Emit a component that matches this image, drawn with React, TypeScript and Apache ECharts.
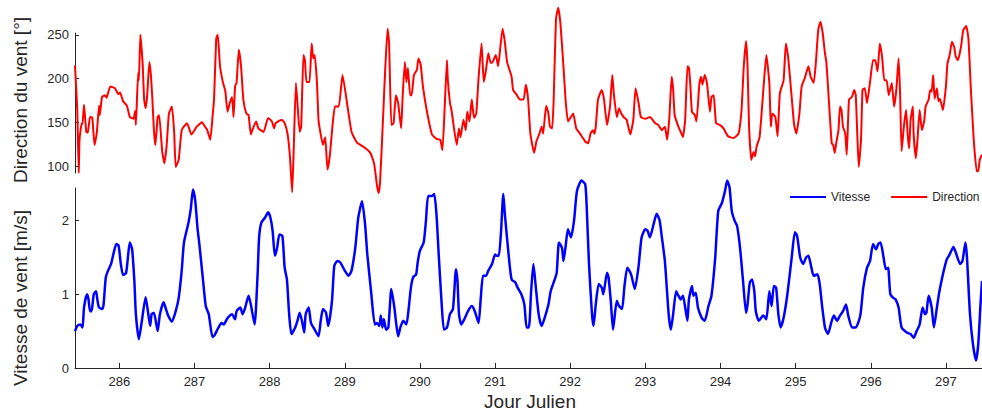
import React, { useEffect, useRef } from "react";
import * as echarts from "echarts";

const DAY_TICKS = [286, 287, 288, 289, 290, 291, 292, 293, 294, 295, 296, 297];
const DIR_TICKS = [100, 150, 200, 250];
const SPD_TICKS = [0, 1, 2];

const dirDays = [
  285.41, 285.44, 285.46, 285.47, 285.5, 285.51, 285.53, 285.56, 285.58, 285.61, 285.64, 285.67, 285.7, 285.73, 285.74,
  285.77, 285.81, 285.83, 285.88, 285.94, 285.99, 286.01, 286.05, 286.1, 286.14, 286.19, 286.21, 286.22, 286.25, 286.26,
  286.28, 286.31, 286.33, 286.35, 286.37, 286.4, 286.42, 286.44, 286.46, 286.48, 286.51, 286.53, 286.57, 286.6, 286.63,
  286.66, 286.7, 286.73, 286.75, 286.79, 286.83, 286.9, 286.96, 287.03, 287.1, 287.14, 287.17, 287.21, 287.24, 287.26,
  287.29, 287.31, 287.34, 287.38, 287.41, 287.44, 287.47, 287.5, 287.52, 287.54, 287.56, 287.59, 287.62, 287.65, 287.69,
  287.72, 287.75, 287.77, 287.82, 287.85, 287.92, 287.98, 288.03, 288.06, 288.08, 288.16, 288.2, 288.24, 288.27, 288.3,
  288.32, 288.35, 288.37, 288.4, 288.42, 288.45, 288.47, 288.49, 288.53, 288.56, 288.58, 288.6, 288.63, 288.65, 288.67,
  288.71, 288.74, 288.77, 288.8, 288.84, 288.87, 288.92, 288.97, 289.03, 289.09, 289.16, 289.25, 289.34, 289.39, 289.43,
  289.45, 289.47, 289.51, 289.54, 289.57, 289.59, 289.62, 289.65, 289.68, 289.71, 289.75, 289.77, 289.8, 289.82, 289.84,
  289.87, 289.89, 289.92, 289.96, 289.98, 290.01, 290.04, 290.09, 290.16, 290.22, 290.27, 290.3, 290.33, 290.36, 290.37,
  290.4, 290.42, 290.49, 290.52, 290.54, 290.58, 290.61, 290.63, 290.66, 290.69, 290.72, 290.75, 290.78, 290.82, 290.85,
  290.88, 290.91, 290.94, 290.96, 291.01, 291.04, 291.1, 291.13, 291.16, 291.22, 291.24, 291.29, 291.33, 291.38, 291.41,
  291.44, 291.47, 291.52, 291.55, 291.59, 291.62, 291.64, 291.68, 291.71, 291.73, 291.76, 291.78, 291.81, 291.84, 291.87,
  291.91, 291.94, 291.97, 292.01, 292.04, 292.08, 292.13, 292.2, 292.24, 292.27, 292.3, 292.32, 292.34, 292.37, 292.42,
  292.45, 292.49, 292.53, 292.56, 292.58, 292.62, 292.65, 292.68, 292.71, 292.75, 292.8, 292.84, 292.87, 292.91, 292.94,
  293.0, 293.06, 293.13, 293.17, 293.22, 293.26, 293.29, 293.32, 293.35, 293.37, 293.39, 293.44, 293.48, 293.5, 293.53,
  293.56, 293.58, 293.6, 293.62, 293.66, 293.68, 293.72, 293.74, 293.76, 293.79, 293.82, 293.86, 293.88, 293.91, 293.94,
  293.99, 294.04, 294.1, 294.17, 294.24, 294.28, 294.31, 294.34, 294.36, 294.38, 294.41, 294.44, 294.46, 294.48, 294.52,
  294.55, 294.58, 294.61, 294.65, 294.67, 294.69, 294.73, 294.76, 294.79, 294.84, 294.87, 294.9, 294.95, 294.98, 295.01,
  295.05, 295.08, 295.12, 295.17, 295.2, 295.24, 295.27, 295.3, 295.33, 295.36, 295.39, 295.41, 295.45, 295.48, 295.5,
  295.52, 295.54, 295.57, 295.59, 295.61, 295.63, 295.66, 295.68, 295.71, 295.75, 295.78, 295.8, 295.82, 295.84, 295.87,
  295.89, 295.92, 295.95, 295.99, 296.03, 296.06, 296.09, 296.12, 296.15, 296.18, 296.21, 296.24, 296.28, 296.31, 296.34,
  296.37, 296.39, 296.41, 296.44, 296.47, 296.49, 296.51, 296.53, 296.56, 296.57, 296.6, 296.62, 296.65, 296.68, 296.71,
  296.73, 296.77, 296.79, 296.81, 296.83, 296.85, 296.88, 296.9, 296.92, 296.96, 297.0, 297.02, 297.05, 297.08, 297.11,
  297.13, 297.16, 297.2, 297.23, 297.27, 297.3, 297.33, 297.37, 297.41, 297.43, 297.45, 297.48,
];
const dirValues = [
  215, 164, 92, 130, 149, 148, 170, 139, 138, 156, 155, 124, 138, 169, 158,
  179, 181, 178, 191, 189, 182, 184, 174, 169, 156, 154, 163, 147, 206, 198,
  250, 217, 176, 166, 180, 219, 204, 176, 141, 124, 156, 158, 117, 103, 124,
  160, 168, 138, 99, 107, 141, 149, 136, 145, 150, 145, 141, 130, 156, 176,
  246, 250, 214, 195, 186, 162, 172, 179, 156, 191, 195, 233, 214, 176, 160,
  158, 136, 141, 151, 143, 139, 155, 151, 143, 149, 153, 149, 136, 111, 70,
  118, 195, 172, 139, 145, 227, 221, 196, 196, 240, 223, 227, 195, 153, 141,
  124, 133, 96, 111, 149, 168, 168, 204, 172, 139, 127, 122, 115, 103, 77,
  69, 82, 156, 214, 257, 240, 147, 149, 181, 172, 143, 179, 219, 196, 212,
  181, 181, 204, 210, 223, 216, 191, 164, 136, 131, 130, 118, 168, 221, 200,
  172, 164, 124, 143, 133, 153, 141, 162, 151, 176, 155, 160, 200, 240, 196,
  210, 229, 218, 218, 227, 214, 257, 242, 219, 202, 187, 181, 176, 176, 193,
  176, 137, 115, 128, 137, 145, 137, 169, 160, 145, 143, 176, 267, 281, 263,
  214, 174, 151, 156, 160, 143, 137, 128, 126, 137, 141, 137, 145, 176, 187,
  176, 147, 168, 204, 183, 156, 166, 160, 156, 153, 136, 153, 189, 172, 156,
  154, 156, 149, 147, 141, 145, 130, 156, 202, 188, 158, 145, 137, 133, 153,
  214, 212, 191, 162, 158, 151, 195, 202, 193, 204, 195, 162, 179, 181, 149,
  147, 143, 134, 132, 137, 164, 214, 243, 214, 145, 107, 116, 111, 122, 133,
  164, 198, 227, 195, 145, 160, 156, 134, 183, 198, 240, 225, 176, 147, 137,
  160, 191, 200, 214, 202, 195, 219, 255, 265, 252, 229, 218, 164, 126, 124,
  115, 126, 141, 168, 164, 145, 137, 113, 176, 179, 187, 181, 137, 99, 130,
  187, 189, 172, 196, 221, 221, 208, 240, 225, 198, 198, 181, 195, 168, 187,
  223, 183, 117, 145, 164, 137, 120, 153, 168, 137, 109, 128, 164, 141, 151,
  168, 176, 187, 185, 204, 177, 189, 174, 177, 164, 191, 217, 227, 242, 236,
  225, 221, 236, 255, 260, 245, 191, 130, 94, 94, 107, 113,
];

const spdDays = [
  285.41, 285.44, 285.48, 285.51, 285.53, 285.57, 285.59, 285.61, 285.63, 285.66, 285.69, 285.71, 285.73, 285.77, 285.79,
  285.82, 285.85, 285.89, 285.92, 285.96, 285.99, 286.02, 286.05, 286.09, 286.12, 286.14, 286.17, 286.2, 286.22, 286.26,
  286.3, 286.35, 286.38, 286.41, 286.43, 286.46, 286.51, 286.54, 286.59, 286.62, 286.65, 286.7, 286.75, 286.79, 286.83,
  286.86, 286.92, 286.95, 286.98, 287.01, 287.04, 287.07, 287.11, 287.15, 287.19, 287.24, 287.27, 287.32, 287.36, 287.39,
  287.43, 287.47, 287.5, 287.54, 287.56, 287.61, 287.64, 287.67, 287.72, 287.75, 287.8, 287.84, 287.86, 287.89, 287.94,
  287.98, 288.01, 288.04, 288.07, 288.1, 288.13, 288.17, 288.2, 288.23, 288.26, 288.29, 288.34, 288.37, 288.4, 288.43,
  288.46, 288.48, 288.52, 288.55, 288.6, 288.65, 288.68, 288.71, 288.75, 288.78, 288.83, 288.86, 288.9, 288.94, 289.0,
  289.05, 289.09, 289.14, 289.18, 289.23, 289.27, 289.3, 289.35, 289.4, 289.43, 289.46, 289.48, 289.5, 289.52, 289.55,
  289.58, 289.62, 289.66, 289.68, 289.71, 289.74, 289.78, 289.82, 289.85, 289.88, 289.91, 289.95, 289.97, 290.0, 290.05,
  290.08, 290.11, 290.16, 290.19, 290.22, 290.25, 290.29, 290.32, 290.36, 290.4, 290.44, 290.48, 290.5, 290.52, 290.55,
  290.59, 290.64, 290.69, 290.73, 290.78, 290.81, 290.84, 290.88, 290.91, 290.96, 291.0, 291.02, 291.05, 291.08, 291.11,
  291.13, 291.18, 291.22, 291.27, 291.3, 291.35, 291.39, 291.42, 291.45, 291.48, 291.51, 291.54, 291.58, 291.62, 291.66,
  291.71, 291.74, 291.78, 291.82, 291.85, 291.89, 291.91, 291.94, 291.97, 292.01, 292.05, 292.09, 292.15, 292.2, 292.22,
  292.25, 292.29, 292.31, 292.34, 292.38, 292.42, 292.44, 292.49, 292.51, 292.54, 292.57, 292.62, 292.65, 292.69, 292.72,
  292.76, 292.81, 292.86, 292.91, 292.95, 293.0, 293.03, 293.06, 293.11, 293.15, 293.19, 293.22, 293.26, 293.31, 293.34,
  293.37, 293.41, 293.44, 293.47, 293.5, 293.53, 293.56, 293.58, 293.62, 293.64, 293.67, 293.7, 293.75, 293.79, 293.84,
  293.88, 293.93, 293.97, 294.02, 294.06, 294.09, 294.12, 294.15, 294.19, 294.22, 294.26, 294.3, 294.34, 294.36, 294.39,
  294.42, 294.45, 294.47, 294.51, 294.57, 294.61, 294.65, 294.68, 294.71, 294.74, 294.77, 294.8, 294.84, 294.89, 294.95,
  294.99, 295.02, 295.06, 295.1, 295.14, 295.17, 295.21, 295.24, 295.29, 295.32, 295.35, 295.39, 295.43, 295.48, 295.51,
  295.55, 295.59, 295.63, 295.67, 295.7, 295.75, 295.8, 295.86, 295.9, 295.95, 295.99, 296.03, 296.07, 296.1, 296.13,
  296.17, 296.2, 296.23, 296.26, 296.3, 296.33, 296.37, 296.41, 296.48, 296.53, 296.57, 296.61, 296.65, 296.69, 296.72,
  296.74, 296.77, 296.81, 296.84, 296.88, 296.91, 296.96, 297.01, 297.05, 297.1, 297.13, 297.19, 297.22, 297.26, 297.28,
  297.32, 297.36, 297.4, 297.43, 297.46, 297.48,
];
const spdValues = [
  0.5, 0.57, 0.59, 0.55, 0.82, 1.0, 0.93, 0.77, 0.77, 1.0, 1.04, 0.91, 0.82, 0.8, 0.86,
  1.23, 1.32, 1.41, 1.54, 1.68, 1.66, 1.41, 1.26, 1.29, 1.56, 1.7, 1.61, 1.18, 0.73, 0.39,
  0.64, 0.96, 0.77, 0.57, 0.73, 0.75, 0.5, 0.73, 0.89, 0.8, 0.71, 0.63, 0.77, 0.95, 1.32,
  1.7, 1.97, 2.15, 2.42, 2.27, 1.9, 1.63, 1.23, 0.84, 0.73, 0.42, 0.45, 0.55, 0.61, 0.59,
  0.66, 0.71, 0.73, 0.66, 0.77, 0.82, 0.73, 0.8, 0.98, 0.86, 0.59, 1.27, 1.77, 1.97, 2.04,
  2.11, 2.04, 1.86, 1.52, 1.63, 1.81, 1.79, 1.36, 1.2, 0.73, 0.46, 0.55, 0.64, 0.75, 0.64,
  0.48, 0.73, 0.82, 0.61, 0.52, 0.43, 0.64, 0.8, 0.75, 0.57, 0.91, 1.38, 1.45, 1.43, 1.32,
  1.25, 1.32, 1.63, 2.04, 2.26, 1.95, 1.54, 1.04, 0.59, 0.61, 0.57, 0.71, 0.55, 0.66, 0.52,
  0.55, 1.07, 0.82, 0.64, 0.43, 0.55, 0.64, 0.59, 0.8, 1.09, 1.23, 1.27, 1.43, 1.59, 1.7,
  1.99, 2.33, 2.33, 2.36, 2.09, 1.54, 0.86, 0.52, 0.55, 0.73, 0.8, 1.34, 1.18, 0.73, 0.59,
  0.66, 0.77, 0.84, 0.77, 0.61, 0.95, 1.25, 1.25, 1.32, 1.41, 1.54, 1.52, 1.52, 1.86, 2.36,
  2.09, 1.54, 1.2, 1.16, 1.09, 1.0, 0.86, 0.55, 0.55, 1.04, 1.41, 1.12, 0.73, 0.57, 0.68,
  0.86, 1.04, 1.16, 1.29, 1.7, 1.63, 1.45, 1.66, 1.88, 1.77, 1.99, 2.4, 2.54, 2.49, 2.17,
  1.41, 0.73, 0.57, 0.86, 1.14, 1.09, 1.0, 1.29, 1.23, 0.91, 0.52, 0.91, 0.84, 0.8, 1.09,
  1.36, 1.27, 1.07, 1.38, 1.77, 1.88, 1.86, 1.77, 1.95, 2.09, 2.0, 1.77, 1.45, 0.73, 0.52,
  0.73, 1.04, 0.98, 0.93, 0.98, 0.82, 0.64, 0.93, 1.11, 0.98, 1.02, 0.82, 0.68, 0.64, 0.84,
  0.98, 1.5, 2.13, 2.24, 2.4, 2.54, 2.45, 2.13, 1.99, 1.93, 1.63, 1.18, 0.75, 0.86, 1.16,
  1.2, 1.04, 0.77, 0.64, 0.71, 0.66, 1.04, 0.84, 1.11, 1.09, 0.73, 0.55, 0.68, 1.0, 1.52,
  1.84, 1.79, 1.5, 1.41, 1.5, 1.52, 1.36, 1.25, 1.27, 1.14, 0.86, 0.55, 0.46, 0.64, 0.71,
  0.64, 0.71, 0.77, 0.86, 0.71, 0.55, 0.55, 0.71, 1.09, 1.36, 1.45, 1.68, 1.61, 1.68, 1.7,
  1.5, 1.34, 1.36, 1.0, 0.95, 0.93, 0.82, 0.55, 0.48, 0.46, 0.41, 0.5, 0.59, 0.82, 0.73,
  0.75, 0.98, 0.82, 0.55, 0.82, 1.02, 1.27, 1.47, 1.54, 1.64, 1.57, 1.41, 1.45, 1.7, 1.5,
  0.73, 0.32, 0.1, 0.32, 0.86, 1.18,
];

const X_MIN = 285.41;
const X_MAX = 297.48;
const FONT = '"Liberation Sans", Arial, Helvetica, sans-serif';
const INK = "#262626";

export default function App() {
  const ref = useRef<HTMLDivElement>(null);
  useEffect(() => {
    if (!ref.current) return;
    const chart = echarts.init(ref.current, null, { renderer: "svg" });
    const dirData = dirDays.map((d, i) => [d, dirValues[i]]);
    const spdData = spdDays.map((d, i) => [d, spdValues[i]]);
    const axisLabelStyle = { color: INK, fontSize: 13, fontFamily: FONT };
    chart.setOption({
      animation: false,
      textStyle: { fontFamily: FONT },
      grid: [
        { left: 75, right: 0, top: 33, height: 140 },
        { left: 75, right: 0, top: 188, height: 180 },
      ],
      legend: {
        left: 790,
        top: 191,
        padding: 0,
        icon: "rect",
        itemWidth: 36,
        itemHeight: 2,
        itemGap: 21,
        textStyle: { color: INK, fontSize: 12, fontFamily: FONT, padding: [0, 0, 0, 0] },
        data: ["Vitesse", "Direction"],
      },
      xAxis: [
        { gridIndex: 0, type: "value", min: X_MIN, max: X_MAX, show: false },
        {
          gridIndex: 1,
          type: "value",
          min: X_MIN,
          max: X_MAX,
          axisLine: { show: true, lineStyle: { color: INK, width: 1 } },
          axisTick: { show: true, inside: true, length: 5, customValues: DAY_TICKS, lineStyle: { color: INK } },
          axisLabel: { ...axisLabelStyle, margin: 7, customValues: DAY_TICKS },
          splitLine: { show: false },
        },
      ],
      yAxis: [
        {
          gridIndex: 0,
          type: "value",
          min: 92,
          max: 252,
          axisLine: { show: true, lineStyle: { color: INK, width: 1 } },
          axisTick: { show: true, inside: true, length: 4, customValues: DIR_TICKS, lineStyle: { color: INK } },
          axisLabel: { ...axisLabelStyle, margin: 6, customValues: DIR_TICKS },
          splitLine: { show: false },
        },
        {
          gridIndex: 1,
          type: "value",
          min: 0,
          max: 2.44,
          axisLine: { show: true, lineStyle: { color: INK, width: 1 } },
          axisTick: { show: true, inside: true, length: 4, customValues: SPD_TICKS, lineStyle: { color: INK } },
          axisLabel: { ...axisLabelStyle, margin: 6, customValues: SPD_TICKS },
          splitLine: { show: false },
        },
      ],
      series: [
        {
          name: "Direction",
          type: "line",
          xAxisIndex: 0,
          yAxisIndex: 0,
          data: dirData,
          showSymbol: false,
          clip: false,
          smooth: 0.15,
          lineStyle: { color: "#ff0000", width: 2 },
          itemStyle: { color: "#ff0000" },
        },
        {
          name: "Vitesse",
          type: "line",
          xAxisIndex: 1,
          yAxisIndex: 1,
          data: spdData,
          showSymbol: false,
          clip: false,
          smooth: 0.2,
          lineStyle: { color: "#0000ff", width: 2.5 },
          itemStyle: { color: "#0000ff" },
        },
      ],
      graphic: [
        {
          type: "text",
          x: 20,
          y: 100,
          rotation: Math.PI / 2,
          style: { text: "Direction du vent [°]", font: `19px ${FONT}`, fill: INK, textAlign: "center", textVerticalAlign: "middle" },
        },
        {
          type: "text",
          x: 20,
          y: 298,
          rotation: Math.PI / 2,
          style: { text: "Vitesse de vent [m/s]", font: `19px ${FONT}`, fill: INK, textAlign: "center", textVerticalAlign: "middle" },
        },
        {
          type: "text",
          x: 530,
          y: 401,
          style: { text: "Jour Julien", font: `19px ${FONT}`, fill: INK, textAlign: "center", textVerticalAlign: "middle" },
        },
      ],
    });
    return () => chart.dispose();
  }, []);
  return (
    <div
      ref={ref}
      style={{ position: "fixed", left: 0, top: 0, width: 982, height: 410, background: "#fff" }}
    />
  );
}
